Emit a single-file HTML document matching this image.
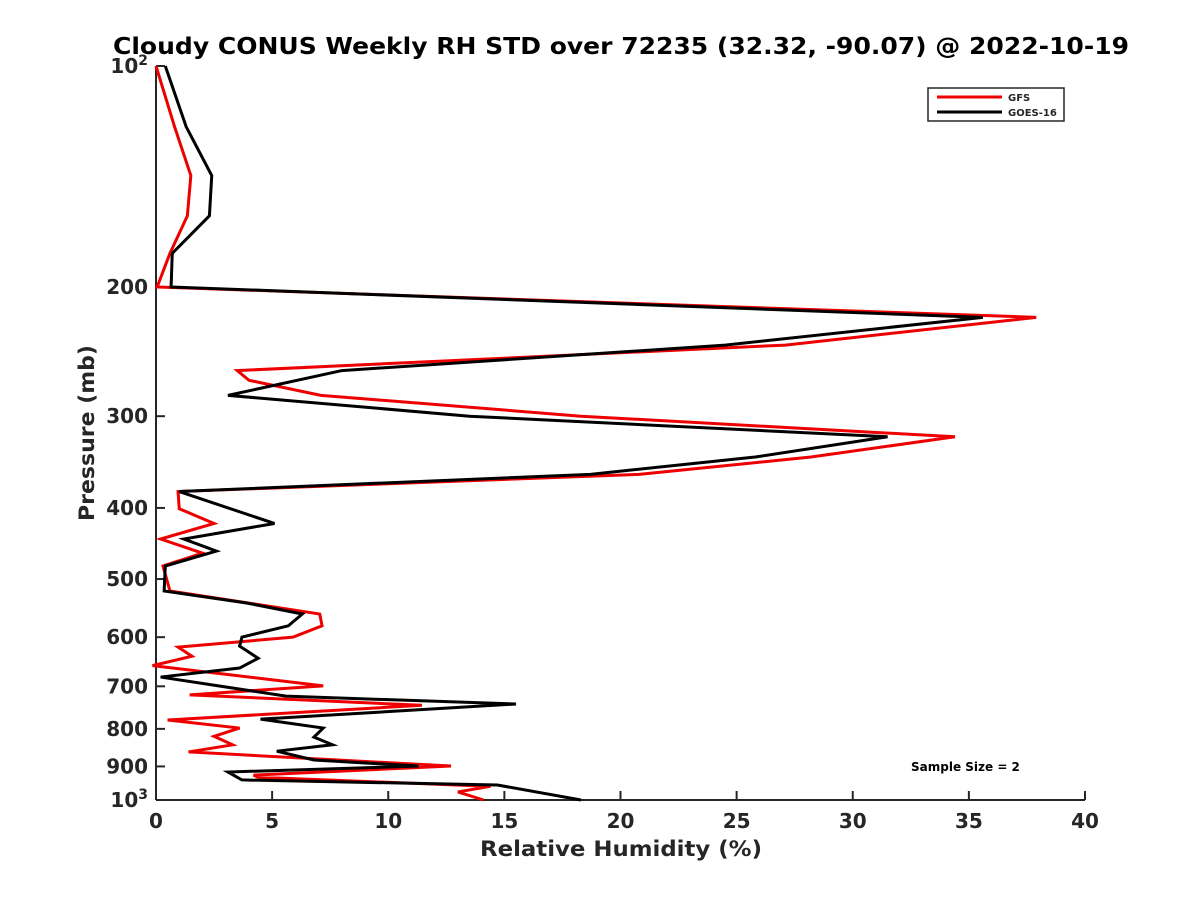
<!DOCTYPE html>
<html><head><meta charset="utf-8"><style>
body{margin:0;background:#fff;}
svg text{font-family:"DejaVu Sans","Liberation Sans",sans-serif;font-weight:bold;fill:#262626;}
</style></head><body>
<svg id="chart" width="1200" height="900" viewBox="0 0 1200 900" xmlns="http://www.w3.org/2000/svg">
<rect width="1200" height="900" fill="#fff"/>
<text x="621" y="54" text-anchor="middle" font-size="23" textLength="1016" lengthAdjust="spacingAndGlyphs" style="fill:#000">Cloudy CONUS Weekly RH STD over 72235 (32.32, -90.07) @ 2022-10-19</text>
<g id="axes"></g>
<g id="series"></g>
<text x="621" y="856" text-anchor="middle" font-size="21" textLength="282" lengthAdjust="spacingAndGlyphs">Relative Humidity (%)</text>
<text transform="translate(94,433) rotate(-90)" text-anchor="middle" font-size="21" textLength="176" lengthAdjust="spacingAndGlyphs">Pressure (mb)</text>
<text x="911" y="771" font-size="12" style="fill:#000">Sample Size = 2</text>
<g>
<rect x="928" y="88" width="136" height="33" fill="#fff" stroke="#262626" stroke-width="1.5"/>
<line x1="937" y1="97" x2="1002" y2="97" stroke="#e00" stroke-width="3"/>
<text x="1008" y="101" font-size="10">GFS</text>
<line x1="937" y1="112" x2="1002" y2="112" stroke="#000" stroke-width="3"/>
<text x="1008" y="116" font-size="10">GOES-16</text>
</g>
</svg>
<script>
const pressure=[100,121,141,160,180,200,220,240,260,281,300,320,341,360,380,420,441,458,480,519,539,558,579,600,617,641,661,680,722,740,776,798,821,841,858,882,899,916,939,954,1000];
const goesRH=[0.4,1.3,2.4,2.3,0.7,0.65,35.6,24.5,8.0,3.1,13.5,31.5,25.8,18.7,1.0,5.1,1.2,2.6,0.4,0.35,3.9,6.3,5.7,3.7,3.6,4.4,3.6,0.2,5.6,15.5,4.5,7.2,6.8,7.6,5.2,6.8,11.3,3.1,3.7,14.7,18.3];
const gfsPressure=[100,121,141,160,180,200,220,240,260,268,281,300,320,341,360,380,401,420,441,461,480,519,558,579,600,619,637,656,699,719,743,778,798,819,841,860,899,925,931,958,975,1000];
const gfsRH=[0,0.8,1.5,1.35,0.6,0.05,37.9,27.1,3.5,4.0,7.1,18.3,34.4,28.2,20.8,0.95,1.0,2.5,0.2,2.0,0.3,0.6,7.05,7.15,5.9,0.95,1.55,-0.15,7.2,1.45,11.45,0.5,3.6,2.5,3.3,1.4,12.7,4.2,4.4,14.4,13.0,14.1];
const xTicks=[0,5,10,15,20,25,30,35,40];
const yTicks=[100,200,300,400,500,600,700,800,900,1000];
const yTickLabels=["10","200","300","400","500","600","700","800","900","10"];
const yTickSup=["2","","","","","","","","","3"];
const X0=156,X1=1085,Y0=66,Y1=800;
const xs=v=>X0+(v/40)*(X1-X0);
const ys=p=>Y0+Math.log10(p/100)*(Y1-Y0);
const NS="http://www.w3.org/2000/svg";
const ax=document.getElementById('axes');
function mk(t,a,parent){const e=document.createElementNS(NS,t);for(const k in a)e.setAttribute(k,a[k]);parent.appendChild(e);return e;}
let l=mk('line',{x1:X0,y1:Y0,x2:X0,y2:Y1,stroke:'#262626','stroke-width':2},ax);


l=mk('line',{x1:X0,y1:Y1,x2:X1,y2:Y1,stroke:'#262626','stroke-width':2},ax);


xTicks.forEach(v=>{
  const t=mk('line',{x1:xs(v),y1:Y1,x2:xs(v),y2:Y1-9,stroke:'#262626','stroke-width':2},ax);
  
  
  const tx=mk('text',{x:xs(v),y:Y1+28,'text-anchor':'middle','font-size':20},ax);
  tx.textContent=v;
  
  
});
yTicks.forEach((p,i)=>{
  const t=mk('line',{x1:X0,y1:ys(p),x2:X0+9,y2:ys(p),stroke:'#262626','stroke-width':2},ax);
  
  
  const tx=mk('text',{x:X0-8,y:ys(p)+7,'text-anchor':'end','font-size':20},ax);
  
  
  tx.appendChild(document.createTextNode(yTickLabels[i]));
  if(yTickSup[i]){const s=mk('tspan',{dy:-8,'font-size':14},tx);s.textContent=yTickSup[i];}
});
const sg=document.getElementById('series');
let pl=mk('polyline',{points:gfsRH.map((v,i)=>xs(v)+','+ys(gfsPressure[i])).join(' '),fill:'none',stroke:'#e00','stroke-width':3,'stroke-linejoin':'miter'},sg);


pl=mk('polyline',{points:goesRH.map((v,i)=>xs(v)+','+ys(pressure[i])).join(' '),fill:'none',stroke:'#000','stroke-width':3,'stroke-linejoin':'miter'},sg);


</script>
</body></html>
